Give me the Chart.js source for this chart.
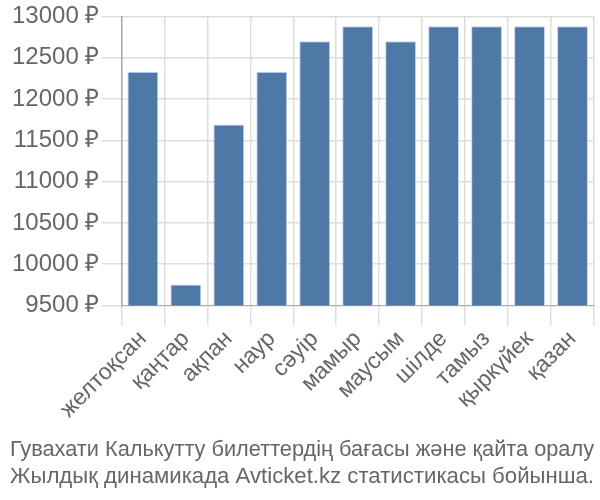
<!DOCTYPE html>
<html>
<head>
<meta charset="utf-8">
<script src="https://cdn.jsdelivr.net/npm/chart.js@4"></script>
<style>
  html, body { margin: 0; padding: 0; background: #fff; }
  #wrap { width: 600px; height: 500px; }
</style>
</head>
<body>
<div id="wrap"><canvas id="priceChart" width="600" height="500"></canvas></div>
<script>
const months = ["желтоқсан", "қаңтар", "ақпан", "наур", "сәуір", "мамыр", "маусым", "шілде", "тамыз", "қыркүйек", "қазан"];
const prices = [12330, 9755, 11690, 12330, 12700, 12880, 12700, 12880, 12880, 12880, 12880];
const titleLines = ["Гувахати Калькутту билеттердің бағасы және қайта оралу", "Жылдық динамикада Avticket.kz статистикасы бойынша."];

const ctx = document.getElementById("priceChart").getContext("2d");
new Chart(ctx, {
    type: "bar",
    data: {
        labels: months,
        datasets: [{
            data: prices,
            backgroundColor: "#4e79a7",
            borderColor: "rgba(200, 215, 235, 1)",
            borderWidth: 1,
            barPercentage: 0.72,
            categoryPercentage: 1
        }]
    },
    options: {
        responsive: false,
        animation: false,
        layout: { padding: { right: 6, top: 5, left: 10, bottom: 0 } },
        plugins: {
            legend: { display: false },
            tooltip: { enabled: false },
            title: {
                display: true,
                position: "bottom",
                text: titleLines,
                color: "#666",
                font: { family: "Liberation Sans", size: 22.3, weight: "normal" },
                padding: { top: 13, bottom: 10 },
                lineHeight: 1.2
            }
        },
        scales: {
            x: {
                grid: { color: "#ddd", lineWidth: 1.5, offset: true, tickLength: 20 },
                border: { color: "#aaa" },
                ticks: {
                    color: "#666",
                    font: { family: "Liberation Sans", size: 23 },
                    maxRotation: 45,
                    minRotation: 45,
                    autoSkip: false,
                    padding: 0
                }
            },
            y: {
                min: 9500,
                max: 13000,
                grid: { color: "#ddd", lineWidth: 1.5, tickLength: 20 },
                border: { color: "#aaa", width: 1.5 },
                ticks: {
                    stepSize: 500,
                    color: "#666",
                    font: { family: "Liberation Sans", size: 24 },
                    padding: 2,
                    callback: function (v) { return v + " ₽"; }
                }
            }
        }
    }
});
</script>
</body>
</html>
